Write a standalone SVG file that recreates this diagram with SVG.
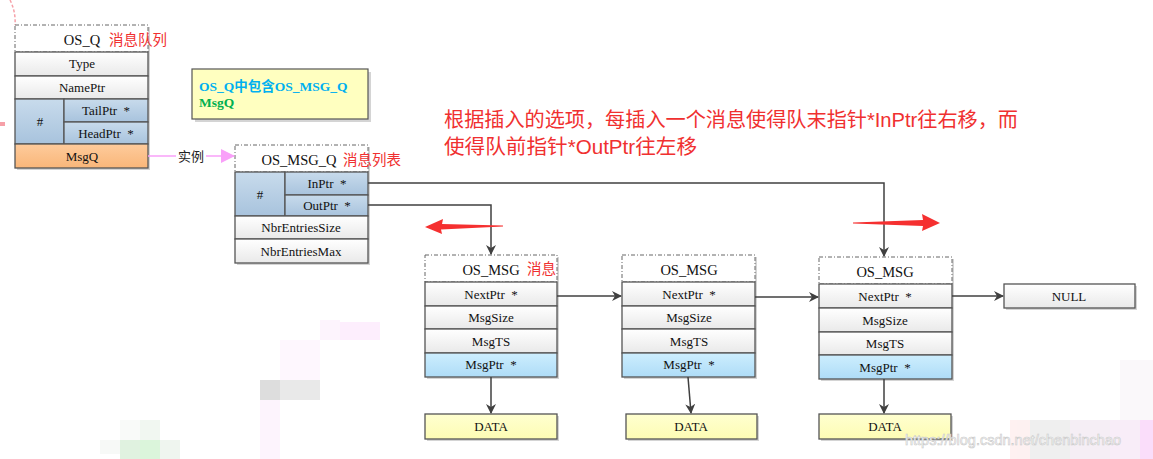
<svg xmlns="http://www.w3.org/2000/svg" width="1153" height="459" viewBox="0 0 1153 459">
<defs>
<linearGradient id="gW" x1="0" y1="0" x2="0" y2="1"><stop offset="0" stop-color="#ffffff"/><stop offset="1" stop-color="#e9e9e9"/></linearGradient>
<linearGradient id="gB" x1="0" y1="0" x2="0" y2="1"><stop offset="0" stop-color="#c8dbec"/><stop offset="1" stop-color="#a8c3dd"/></linearGradient>
<linearGradient id="gO" x1="0" y1="0" x2="0" y2="1"><stop offset="0" stop-color="#fecb9c"/><stop offset="1" stop-color="#f9b679"/></linearGradient>
<linearGradient id="gC" x1="0" y1="0" x2="0" y2="1"><stop offset="0" stop-color="#cdeefe"/><stop offset="1" stop-color="#aedcf7"/></linearGradient>
<linearGradient id="gY" x1="0" y1="0" x2="0" y2="1"><stop offset="0" stop-color="#ffffd0"/><stop offset="1" stop-color="#fdfcb4"/></linearGradient>
<marker id="ah" markerWidth="10" markerHeight="10" refX="9" refY="5" orient="auto" markerUnits="userSpaceOnUse"><path d="M0,0 L10,5 L0,10 L3,5 Z" fill="#404040"/></marker>
<marker id="ap" markerWidth="14" markerHeight="14" refX="13" refY="7" orient="auto" markerUnits="userSpaceOnUse"><path d="M0,0 L14,7 L0,14 Z" fill="#f9a0f9"/></marker>
<style>
.c{stroke:#555;stroke-width:1.3}
.w{fill:url(#gW)}.b{fill:url(#gB)}.o{fill:url(#gO)}.cy{fill:url(#gC)}.y{fill:url(#gY)}
.h{fill:#fff;stroke:#666;stroke-width:1;stroke-dasharray:4,2,1,2}
.sh{fill:#d4d4d4}
.t{font-family:"Liberation Serif","Times New Roman",serif;font-size:13px;fill:#111;text-anchor:middle;white-space:pre}
.th{font-family:"Liberation Serif","Times New Roman",serif;font-size:14.5px;fill:#111;text-anchor:middle}
.r{font-family:"Liberation Sans","Noto Sans CJK SC",sans-serif;fill:#f03030}
.ln{fill:none;stroke:#404040;stroke-width:1.5}
</style>
</defs>
<rect width="1153" height="459" fill="#fff"/>
<!-- mosaic noise -->
<g opacity="0.6">
<rect x="260" y="380" width="20" height="20" fill="#c8c8c8"/><rect x="280" y="380" width="40" height="20" fill="#dcdcdc"/>
<rect x="260" y="400" width="20" height="59" fill="#fdeefd"/><rect x="280" y="340" width="40" height="40" fill="#fef3fe"/>
<rect x="320" y="320" width="20" height="20" fill="#fdeefd"/><rect x="340" y="322" width="40" height="18" fill="#fce3fc"/>
<rect x="120" y="420" width="20" height="20" fill="#f6f8f6"/><rect x="140" y="420" width="20" height="20" fill="#e8f2e8"/>
<rect x="120" y="440" width="20" height="19" fill="#cdebcd"/><rect x="140" y="440" width="20" height="19" fill="#c4efc4"/><rect x="160" y="440" width="20" height="19" fill="#e6efe6"/><rect x="100" y="440" width="20" height="14" fill="#f3f6f3"/>
<rect x="1010" y="420" width="20" height="39" fill="#fde8e8"/><rect x="1030" y="420" width="40" height="39" fill="#e6e6e6"/><rect x="1070" y="420" width="40" height="39" fill="#efe4ef"/><rect x="1110" y="420" width="40" height="39" fill="#f4e2f4"/><rect x="1140" y="420" width="13" height="39" fill="#f8c8f8"/>
<rect x="1120" y="360" width="33" height="60" fill="#f8f5f8"/>
</g>
<!-- pink dashed curve top-left -->
<path d="M10,0 Q16,12 15,25" fill="none" stroke="#f6a0a8" stroke-width="1.5" stroke-dasharray="3,2"/>
<rect x="0" y="122" width="5" height="4" fill="#f6a0a8"/>

<g id="os_q">
<rect class="sh" x="17" y="27" width="133" height="143"/>
<rect class="h" x="15" y="25" width="133" height="27"/>
<text class="th" x="82" y="45">OS_Q</text>
<text class="r" x="109" y="45" font-size="14.5">消息队列</text>
<rect class="c w" x="15" y="52" width="133" height="24"/><text class="t" x="82" y="68">Type</text>
<rect class="c w" x="15" y="76" width="133" height="23"/><text class="t" x="82" y="92">NamePtr</text>
<rect class="c b" x="15" y="99" width="49" height="45"/><text class="t" x="40" y="126">#</text>
<rect class="c b" x="64" y="99" width="84" height="23"/><text class="t" x="106" y="115">TailPtr  *</text>
<rect class="c b" x="64" y="122" width="84" height="22"/><text class="t" x="106" y="138">HeadPtr  *</text>
<rect class="c o" x="15" y="144" width="133" height="24"/><text class="t" x="82" y="161">MsgQ</text>
</g>

<g id="note">
<rect class="sh" x="195" y="72" width="176" height="50"/>
<rect x="192" y="69" width="176" height="50" fill="#ffffc0" stroke="#555" stroke-width="1.2"/>
<text x="199" y="91" font-family="Liberation Serif,'Noto Sans CJK SC',serif" font-size="13.5" font-weight="bold" fill="#00b0f0">OS_Q中包含OS_MSG_Q</text>
<text x="199" y="107" font-family="Liberation Serif,serif" font-size="13.5" font-weight="bold" fill="#00b050">MsgQ</text>
</g>

<g id="os_msg_q">
<rect class="sh" x="237" y="147" width="133" height="118"/>
<rect class="h" x="235" y="145" width="133" height="27"/>
<text class="th" x="299" y="165">OS_MSG_Q</text>
<text class="r" x="343" y="165" font-size="14.5">消息列表</text>
<rect class="c b" x="235" y="172" width="50" height="44"/><text class="t" x="260" y="199">#</text>
<rect class="c b" x="285" y="172" width="83" height="23"/><text class="t" x="327" y="188">InPtr  *</text>
<rect class="c b" x="285" y="195" width="83" height="21"/><text class="t" x="327" y="210">OutPtr  *</text>
<rect class="c w" x="235" y="216" width="133" height="23"/><text class="t" x="301" y="232">NbrEntriesSize</text>
<rect class="c w" x="235" y="239" width="133" height="24"/><text class="t" x="301" y="256">NbrEntriesMax</text>
</g>

<g id="msg1">
<rect class="sh" x="427" y="257" width="132" height="122"/>
<rect class="h" x="425" y="255" width="132" height="27"/>
<text class="th" x="491" y="275">OS_MSG</text>
<text class="r" x="527" y="274" font-size="14.5">消息</text>
<rect class="c w" x="425" y="282" width="132" height="24"/><text class="t" x="491" y="299">NextPtr  *</text>
<rect class="c w" x="425" y="306" width="132" height="23"/><text class="t" x="491" y="322">MsgSize</text>
<rect class="c w" x="425" y="329" width="132" height="24"/><text class="t" x="491" y="346">MsgTS</text>
<rect class="c cy" x="425" y="353" width="132" height="24"/><text class="t" x="491" y="369">MsgPtr  *</text>
</g>

<g id="msg2">
<rect class="sh" x="624" y="257" width="133" height="122"/>
<rect class="h" x="622" y="255" width="133" height="27"/>
<text class="th" x="689" y="275">OS_MSG</text>
<rect class="c w" x="622" y="282" width="133" height="24"/><text class="t" x="689" y="299">NextPtr  *</text>
<rect class="c w" x="622" y="306" width="133" height="23"/><text class="t" x="689" y="322">MsgSize</text>
<rect class="c w" x="622" y="329" width="133" height="24"/><text class="t" x="689" y="346">MsgTS</text>
<rect class="c cy" x="622" y="353" width="133" height="24"/><text class="t" x="689" y="369">MsgPtr  *</text>
</g>

<g id="msg3">
<rect class="sh" x="821" y="259" width="133" height="122"/>
<rect class="h" x="819" y="257" width="133" height="27"/>
<text class="th" x="885" y="277">OS_MSG</text>
<rect class="c w" x="819" y="284" width="133" height="24"/><text class="t" x="885" y="301">NextPtr  *</text>
<rect class="c w" x="819" y="308" width="133" height="24"/><text class="t" x="885" y="325">MsgSize</text>
<rect class="c w" x="819" y="332" width="133" height="23"/><text class="t" x="885" y="348">MsgTS</text>
<rect class="c cy" x="819" y="355" width="133" height="24"/><text class="t" x="885" y="372">MsgPtr  *</text>
</g>

<g id="null">
<rect class="sh" x="1006" y="286" width="131" height="24"/>
<rect class="c w" x="1004" y="284" width="131" height="24"/><text class="t" x="1069" y="301">NULL</text>
</g>

<g id="data1"><rect class="sh" x="427" y="416" width="132" height="25"/><rect class="c y" x="425" y="414" width="132" height="25"/><text class="t" x="491" y="431">DATA</text></g>
<g id="data2"><rect class="sh" x="628" y="416" width="131" height="25"/><rect class="c y" x="626" y="414" width="131" height="25"/><text class="t" x="691" y="431">DATA</text></g>
<g id="data3"><rect class="sh" x="821" y="416" width="132" height="25"/><rect class="c y" x="819" y="414" width="132" height="25"/><text class="t" x="885" y="431">DATA</text></g>

<g id="connectors">
<line x1="148" y1="156" x2="176" y2="156" stroke="#f9a0f9" stroke-width="1.5"/>
<text x="178" y="161" font-family="Liberation Serif,'Noto Sans CJK SC',serif" font-size="13" fill="#222">实例</text>
<line x1="206" y1="156" x2="234" y2="156" stroke="#f9a0f9" stroke-width="1.5" marker-end="url(#ap)"/>
<path class="ln" d="M368,183 H884 V256" marker-end="url(#ah)"/>
<path class="ln" d="M368,205 H491 V254" marker-end="url(#ah)"/>
<line class="ln" x1="557" y1="296" x2="621" y2="296" marker-end="url(#ah)"/>
<line class="ln" x1="755" y1="297" x2="818" y2="297" marker-end="url(#ah)"/>
<line class="ln" x1="952" y1="296" x2="1003" y2="296" marker-end="url(#ah)"/>
<line class="ln" x1="491" y1="377" x2="491" y2="413" marker-end="url(#ah)"/>
<line class="ln" x1="688" y1="377" x2="691" y2="413" marker-end="url(#ah)"/>
<line class="ln" x1="884" y1="379" x2="884" y2="413" marker-end="url(#ah)"/>
</g>

<g id="red_arrows">
<path d="M503,225.5 L442,224 L443,219 L425,227 L442,234 L441,229.5 L503,226.5 Z" fill="#f53030"/>
<path d="M853,222.5 L923,220 L922,214 L940,223 L922,231 L923,226 L853,223.5 Z" fill="#f53030"/>
</g>

<g id="note_text">
<text class="r" x="444" y="127" font-size="20" textLength="574" lengthAdjust="spacingAndGlyphs">根据插入的选项，每插入一个消息使得队末指针*InPtr往右移，而</text>
<text class="r" x="444" y="154" font-size="20" textLength="253" lengthAdjust="spacingAndGlyphs">使得队前指针*OutPtr往左移</text>
</g>

<text x="905" y="445" font-family="Liberation Sans,Arial,sans-serif" font-size="14.5" fill="#fff" stroke="#c8c8c8" stroke-width="0.6">https://blog.csdn.net/chenbinchao</text>
</svg>
